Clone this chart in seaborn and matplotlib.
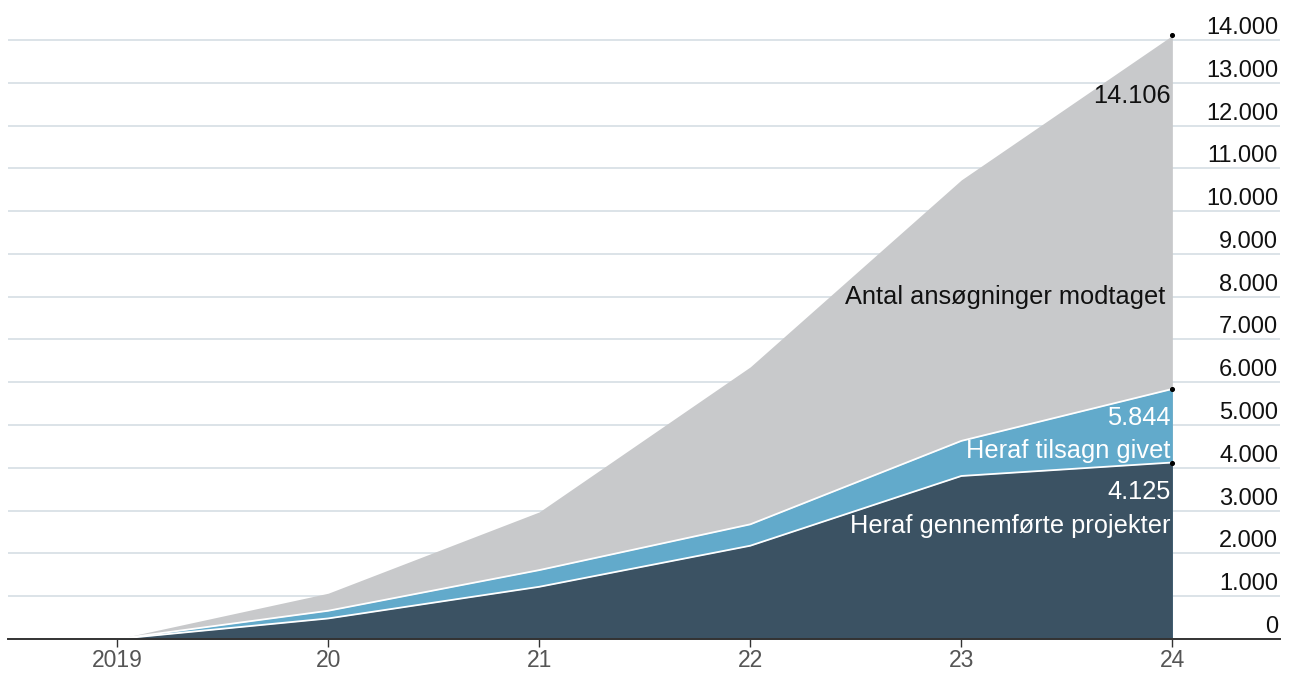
import numpy as np
import pandas as pd
import seaborn as sns
import matplotlib.pyplot as plt

# data
years = [2019, 2020, 2021, 2022, 2023, 2024]
year_labels = ["2019", "20", "21", "22", "23", "24"]
ansoegninger = [0, 1070, 2970, 6360, 10730, 14106]
tilsagn = [0, 660, 1610, 2680, 4630, 5844]
projekter = [0, 480, 1220, 2180, 3810, 4125]
y_ticks = list(range(0, 14001, 1000))

# colours
gray_col = "#c8c9cb"
blue_col = "#62aacb"
dark_col = "#3b5263"
grid_col = "#d5dee4"

sns.set_theme(style="white")
plt.rcParams['font.family'] = ['Liberation Sans', 'DejaVu Sans']

df = pd.DataFrame({"year": years, "total": ansoegninger,
                   "tilsagn": tilsagn, "projekter": projekter})

fig = plt.figure(figsize=(12.9, 6.73), dpi=100)
ax = fig.add_axes([8 / 1290, 34 / 673, 1272 / 1290, 608 / 673])

# gridlines behind the areas
for t in y_ticks:
    ax.axhline(t, color=grid_col, lw=1.2, zorder=0)

# stacked areas (drawn overlapping from 0)
ax.fill_between(df["year"], 0, df["total"], color=gray_col, lw=0, zorder=1)
ax.fill_between(df["year"], 0, df["tilsagn"], color=blue_col, lw=0, zorder=2)
ax.fill_between(df["year"], 0, df["projekter"], color=dark_col, lw=0, zorder=3)

# white separator lines
sns.lineplot(data=df, x="year", y="tilsagn", color="white", lw=1.3, ax=ax,
             zorder=4)
sns.lineplot(data=df, x="year", y="projekter", color="white", lw=1.3, ax=ax,
             zorder=4)

# small dots at the last values
last = df.iloc[-1]
ax.scatter([last["year"]] * 3, [last["total"], last["tilsagn"],
           last["projekter"]], s=7, color="black", zorder=6)

ax.set_xlim(2018.483, 2024.51)
ax.set_ylim(0, 14210)

# y labels inside on the right, above gridlines
ax.set_yticks([])
for t in y_ticks:
    lbl = f"{t:,}".replace(",", ".")
    ax.annotate(lbl, xy=(1, t), xycoords=("axes fraction", "data"),
                xytext=(-2, 1), textcoords="offset pixels",
                ha="right", va="bottom", fontsize=17, color="#111111")

# x axis
ax.set_xticks(years)
ax.set_xticklabels(year_labels, fontsize=16.5, color="#555555")
ax.tick_params(axis="x", length=5.8, width=1, color="#333333", pad=1.5,
               direction="out", bottom=True)
for side in ["top", "left", "right"]:
    ax.spines[side].set_visible(False)
ax.spines["bottom"].set_color("#333333")
ax.spines["bottom"].set_linewidth(1.4)
ax.spines["bottom"].set_zorder(7)
ax.set_xlabel("")
ax.set_ylabel("")

# annotations
def fmt(v):
    return f"{int(v):,}".replace(",", ".")

x_end = years[-1]
ax.annotate(fmt(ansoegninger[-1]), xy=(x_end, ansoegninger[-1]),
            xytext=(-2, -61), textcoords="offset pixels", ha="right",
            va="center", fontsize=18.3, color="#111111", zorder=8)
ax.annotate("Antal ansøgninger modtaget", xy=(x_end, ansoegninger[-1]),
            xytext=(-7, -262), textcoords="offset pixels", ha="right",
            va="center", fontsize=18.3, color="#111111", zorder=8)
ax.annotate(fmt(tilsagn[-1]), xy=(x_end, tilsagn[-1]),
            xytext=(-2, -29), textcoords="offset pixels", ha="right",
            va="center", fontsize=18.3, color="white", zorder=8)
ax.annotate("Heraf tilsagn givet", xy=(x_end, tilsagn[-1]),
            xytext=(-2, -62), textcoords="offset pixels", ha="right",
            va="center", fontsize=18.3, color="white", zorder=8)
ax.annotate(fmt(projekter[-1]), xy=(x_end, projekter[-1]),
            xytext=(-2, -29), textcoords="offset pixels", ha="right",
            va="center", fontsize=18.3, color="white", zorder=8)
ax.annotate("Heraf gennemførte projekter", xy=(x_end, projekter[-1]),
            xytext=(-2, -63), textcoords="offset pixels", ha="right",
            va="center", fontsize=18.3, color="white", zorder=8)

fig.savefig("out.png", dpi=100)
